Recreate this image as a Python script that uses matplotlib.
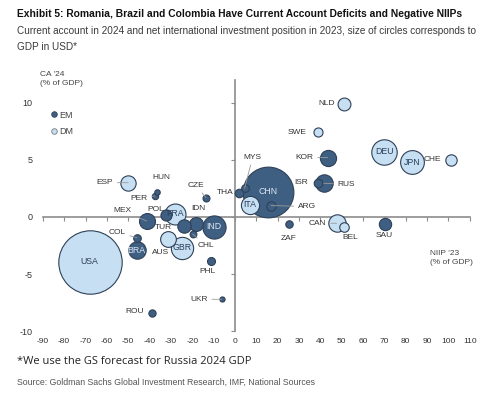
import numpy as np
import matplotlib.pyplot as plt
from matplotlib import font_manager
from matplotlib.lines import Line2D

# NIIP 2023 (% of GDP), current account 2024 (% of GDP), GDP (USD tn)
countries = ["USA", "CHN", "DEU", "JPN", "IND", "GBR", "FRA", "ITA", "BRA", "CAN",
             "RUS", "KOR", "AUS", "ESP", "MEX", "IDN", "TUR", "NLD", "SAU", "CHE",
             "POL", "SWE", "BEL", "ARG", "ISR", "THA", "ZAF", "PHL", "MYS", "COL",
             "CHL", "ROU", "CZE", "PER", "HUN", "UKR"]
niip = [-68, 15.5, 70, 83, -9.7, -24.7, -28, 7, -46, 47.6,
        41.5, 43.4, -31.2, -50, -41.4, -18.3, -23.9, 51, 70.3, 101,
        -32.5, 38.7, 51.2, 16.9, 39, 2.0, 25.3, -11.2, 4.5, -46,
        -19.8, -38.7, -13.6, -37.5, -36.5, -6.2]
ca = [-3.9, 2.2, 5.7, 4.8, -0.85, -2.7, 0.3, 1.05, -2.9, -0.55,
      2.95, 5.2, -1.95, 3.0, -0.35, -0.65, -0.8, 9.9, -0.6, 5.0,
      0.2, 7.4, -0.9, 1.0, 3.0, 2.1, -0.65, -3.85, 2.5, -1.8,
      -1.5, -8.4, 1.7, 1.85, 2.15, -7.2]
gdp = [29.2, 18.7, 4.7, 4.1, 3.9, 3.6, 3.2, 2.4, 2.2, 2.2,
       2.2, 1.9, 1.8, 1.7, 1.85, 1.4, 1.3, 1.2, 1.1, 0.94,
       0.9, 0.6, 0.66, 0.63, 0.54, 0.53, 0.4, 0.46, 0.42, 0.42,
       0.33, 0.38, 0.35, 0.29, 0.22, 0.19]
group = ["DM", "EM", "DM", "DM", "EM", "DM", "DM", "DM", "EM", "DM",
         "EM", "EM", "DM", "DM", "EM", "EM", "EM", "DM", "EM", "DM",
         "EM", "DM", "DM", "EM", "EM", "EM", "EM", "EM", "EM", "EM",
         "EM", "EM", "EM", "EM", "EM", "EM"]

x_ticks = list(range(-90, 111, 10))
y_ticks = [-10, -5, 0, 5, 10]

# label placement: offset in pixels, alignment, leader line
inside = ["USA", "CHN", "DEU", "JPN", "IND", "GBR", "FRA", "ITA", "BRA"]
lab = {
    "NLD": (-9, 0, "right", False), "SWE": (-11, 0, "right", False),
    "KOR": (-14, 0, "right", True), "ISR": (-10, 0, "right", False),
    "RUS": (14, -1, "left", True), "CHE": (-9, 0, "right", False),
    "MYS": (8, 31, "center", True), "THA": (-6, 0, "right", False),
    "ARG": (27, -1, "left", True), "ZAF": (0, -14, "center", False),
    "CAN": (-10, 0, "right", True), "BEL": (6, -10, "center", False),
    "SAU": (-1, -12, "center", False), "COL": (-11, 5, "right", True),
    "ROU": (-8, 2, "right", False), "UKR": (-14, 0, "right", True),
    "PHL": (-4, -11, "center", False), "CHL": (13, -11, "center", True),
    "AUS": (-8, -13, "center", False), "TUR": (-12, -1, "right", False),
    "IDN": (2, 16, "center", False), "POL": (-1, 5, "right", False),
    "MEX": (-15, 10, "right", True), "HUN": (4, 15, "center", False),
    "PER": (-7, -3, "right", True), "CZE": (-10, 12, "center", True),
    "ESP": (-15, 0, "right", True),
}

plt.rcParams["axes.unicode_minus"] = False
names = {f.name for f in font_manager.fontManager.ttflist}
narrow = "Liberation Sans Narrow" if "Liberation Sans Narrow" in names else None
arial = "Liberation Sans"

dark = "#3e5f82"
light = "#c7dff2"
edge = "#2e4057"

fig = plt.figure(figsize=(5, 3.97), dpi=100)
ax = fig.add_axes([0.0728, 0.1511, 0.8754, 0.6565])
ax.set_xlim(-93, 112)
ax.set_ylim(-10.5, 12.3)

g = np.array(gdp)
r_px = 31.7 * np.sqrt(g / 29.2)
s = (2 * r_px * 0.72) ** 2
order = np.argsort(-g)
for i in order:
    c = dark if group[i] == "EM" else light
    ax.scatter(niip[i], ca[i], s=s[i], color=c, edgecolor=edge, linewidth=0.8, zorder=2)
    if countries[i] in inside:
        tc = "#dbe7f3" if group[i] == "EM" else "#2a3f5a"
        ax.text(niip[i], ca[i], countries[i], ha="center", va="center", fontsize=6.3,
                family=arial, color=tc, zorder=3)

for i, n in enumerate(countries):
    if n not in lab:
        continue
    dx, dy, ha, leader = lab[n]
    ap = dict(arrowstyle="-", color="#9a9a9a", lw=0.6, shrinkA=1, shrinkB=0) if leader else None
    ax.annotate(n, (niip[i], ca[i]), xytext=(dx, dy), textcoords="offset pixels",
                ha=ha, va="center", fontsize=6, family=arial, color="#333333",
                arrowprops=ap, zorder=4)

# axes crossing at zero
for sp in ["top", "right"]:
    ax.spines[sp].set_visible(False)
ax.spines["left"].set_position(("data", 0))
ax.spines["bottom"].set_position(("data", 0))
ax.spines["left"].set_bounds(-10, 12)
ax.spines["bottom"].set_bounds(-90, 110)
for sp in ["left", "bottom"]:
    ax.spines[sp].set_color("#8c8c8c")
    ax.spines[sp].set_linewidth(1.2)
    ax.spines[sp].set_zorder(1)
ax.set_xticks(x_ticks)
ax.set_yticks(y_ticks)
ax.tick_params(axis="both", labelbottom=False, labelleft=False, length=3,
               color="#8c8c8c", width=0.8, direction="out")

sx = ax.secondary_xaxis("bottom")
sx.set_xticks(x_ticks)
sx.spines["bottom"].set_visible(False)
sx.tick_params(length=0, pad=1, labelsize=6, labelcolor="#333333")
sy = ax.secondary_yaxis("left")
sy.set_yticks(y_ticks)
sy.spines["left"].set_visible(False)
sy.tick_params(length=0, pad=3, labelsize=6.5, labelcolor="#333333")
for t in sx.get_xticklabels() + sy.get_yticklabels():
    t.set_family(arial)

hd = [Line2D([], [], marker="o", ls="", markersize=4, markerfacecolor=dark, markeredgecolor=edge, markeredgewidth=0.6),
      Line2D([], [], marker="o", ls="", markersize=4, markerfacecolor=light, markeredgecolor="#777777", markeredgewidth=0.6)]
leg = ax.legend(hd, ["EM", "DM"], loc="upper left", bbox_to_anchor=(0.012, 0.9), frameon=False,
                handletextpad=0.0, handlelength=1.0, labelspacing=0.8, prop={"family": arial, "size": 6.5})
for t in leg.get_texts():
    t.set_color("#444444")

fig.text(40 / 500, 1 - 71 / 397, "CA '24\n(% of GDP)", ha="left", va="top", fontsize=6,
         family=arial, color="#444444", linespacing=1.35)
fig.text(430 / 500, 1 - 250 / 397, "NIIP '23\n(% of GDP)", ha="left", va="top", fontsize=6,
         family=arial, color="#444444", linespacing=1.35)

if narrow:
    tfam, tsz, ssz, srcsz = narrow, 8.2, 7.6, 7.0
else:
    tfam, tsz, ssz, srcsz = arial, 7.4, 7.2, 6.3
fig.text(17 / 500, 1 - 14 / 397, "Exhibit 5: Romania, Brazil and Colombia Have Current Account Deficits and Negative NIIPs",
         ha="left", va="center", fontsize=tsz, fontweight="bold", family=tfam, color="#111111")
fig.text(17 / 500, 1 - 30.5 / 397, "Current account in 2024 and net international investment position in 2023, size of circles corresponds to",
         ha="left", va="center", fontsize=ssz, family=tfam, color="#3a3a3a")
fig.text(17 / 500, 1 - 46.5 / 397, "GDP in USD*", ha="left", va="center", fontsize=ssz, family=tfam, color="#3a3a3a")
fig.text(17 / 500, 1 - 362 / 397, "*We use the GS forecast for Russia 2024 GDP", ha="left", va="center",
         fontsize=8.0, family="Open Sans", color="#222222")
fig.text(17 / 500, 1 - 382 / 397, "Source: Goldman Sachs Global Investment Research, IMF, National Sources",
         ha="left", va="center", fontsize=srcsz, family=tfam, color="#555555")

fig.savefig("out.png", dpi=100)
